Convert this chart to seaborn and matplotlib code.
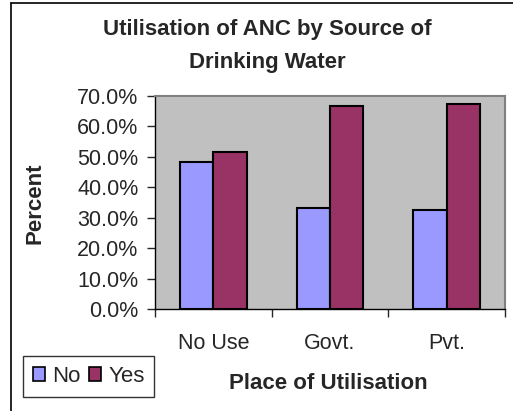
import matplotlib
matplotlib.use("Agg")
import matplotlib.pyplot as plt
import seaborn as sns
import pandas as pd
from matplotlib.lines import Line2D
from matplotlib.ticker import FuncFormatter, FixedLocator
from matplotlib.patches import Patch

categories = ["No Use", "Govt.", "Pvt."]
no_values = [48.4, 33.3, 32.6]
yes_values = [51.6, 66.7, 67.4]
series = ["No", "Yes"]
colors = ["#9999FF", "#993366"]

df = pd.DataFrame({
    "place": categories * 2,
    "value": no_values + yes_values,
    "anc": ["No"] * 3 + ["Yes"] * 3,
})

sns.set_style("white")
plt.rcParams["font.family"] = ["Liberation Sans", "DejaVu Sans"]

fig = plt.figure(figsize=(5.13, 4.11), dpi=100)
ax = fig.add_axes([155/513, 1-309.3/411, 350/513, 213.6/411])
ax.set_facecolor("#C0C0C0")

sns.barplot(data=df, x="place", y="value", hue="anc", order=categories,
            hue_order=series, palette=colors, width=0.57, gap=0, saturation=1,
            edgecolor="black", linewidth=1.5, ax=ax, legend=False, errorbar=None)

ax.set_xlim(-0.5, 2.5)
ax.set_ylim(0, 70)
ax.set_yticks([0, 10, 20, 30, 40, 50, 60, 70])
ax.yaxis.set_major_formatter(FuncFormatter(lambda v, p: f"{v:.1f}%"))
ax.tick_params(axis="y", labelsize=15.5, length=5.8, width=1, direction="out", left=True, pad=6)
ax.set_xticks(range(len(categories)))
ax.set_xticklabels(categories)
ax.tick_params(axis="x", which="major", length=0, labelsize=15.5, pad=17)
ax.xaxis.set_minor_locator(FixedLocator([-0.5, 0.5, 1.5, 2.5]))
ax.tick_params(axis="x", which="minor", length=5.8, width=1, direction="out", bottom=True)

for s in ["left", "bottom"]:
    ax.spines[s].set_color("black")
    ax.spines[s].set_linewidth(1)
for s in ["top", "right"]:
    ax.spines[s].set_color("#808080")
    ax.spines[s].set_linewidth(1.5)

ax.set_xlabel("Place of Utilisation", fontsize=16, fontweight="bold")
ax.xaxis.set_label_coords((328-155)/350, -(383-309.3)/213.6)
ax.xaxis.label.set_va("center")
ax.set_ylabel("Percent", fontsize=16, fontweight="bold")
ax.yaxis.set_label_coords((35-155)/350, (309.3-203)/213.6)
ax.yaxis.label.set_va("center")

fig.text(267/513, 1-46/411, "Utilisation of ANC by Source of\nDrinking Water",
         ha="center", va="center", fontsize=16, fontweight="bold", linespacing=1.7)

handles = [Patch(facecolor=c, edgecolor="black", linewidth=1.2) for c in colors]
leg = fig.legend(handles, series, loc="lower left", bbox_to_anchor=(23/513, 1-397/411),
                 ncol=2, frameon=True, fancybox=False, fontsize=16, handlelength=0.55,
                 handleheight=0.55, handletextpad=0.3, columnspacing=0.4, borderpad=0.45,
                 borderaxespad=0)
leg.get_frame().set_edgecolor("black")
leg.get_frame().set_linewidth(1)

fig.add_artist(Line2D([11/513, 11/513], [0, 1-3/411], color="black", lw=1.2, transform=fig.transFigure))
fig.add_artist(Line2D([11/513, 1], [1-3/411, 1-3/411], color="black", lw=1.2, transform=fig.transFigure))

fig.savefig("out.png", dpi=100)
